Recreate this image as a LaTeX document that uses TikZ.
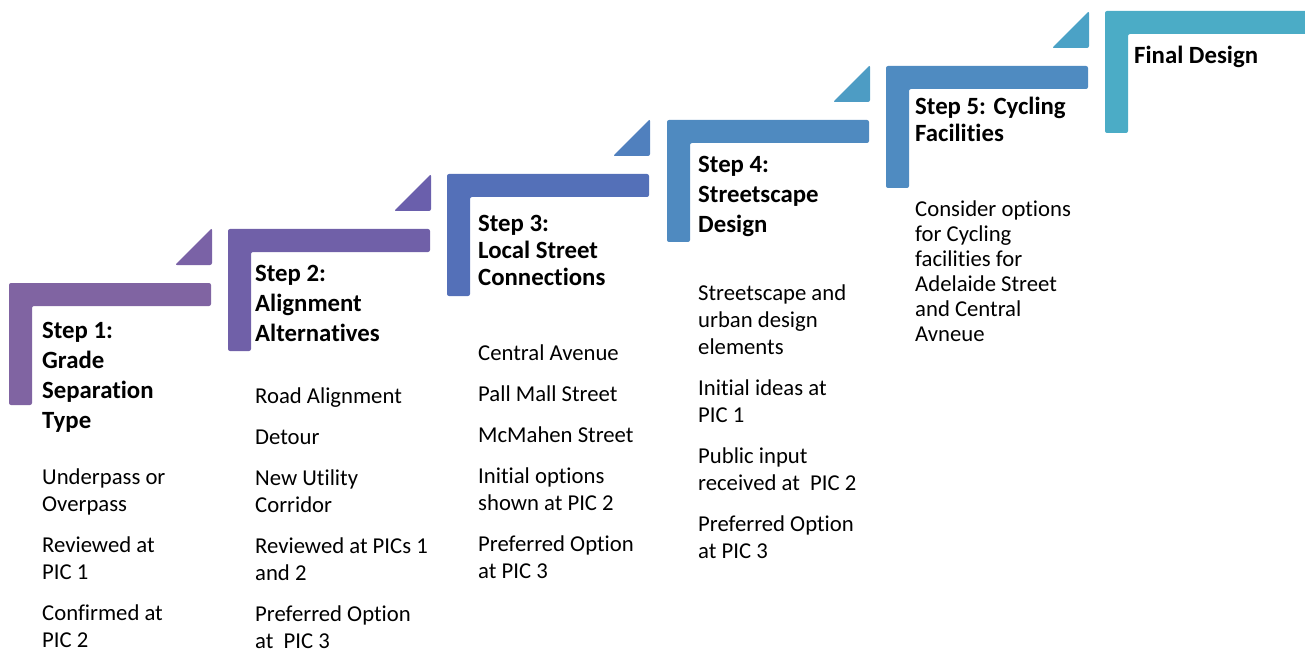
\documentclass[tikz,border=0pt]{standalone}
\usepackage{fontspec}
\setmainfont{Carlito}[Ligatures=NoCommon]
\usepackage{tikz}
\usetikzlibrary{positioning}
\usepackage{xcolor}

\definecolor{barone}{HTML}{8064A2}
\definecolor{trione}{HTML}{7A62A6}
\definecolor{bartwo}{HTML}{7060A8}
\definecolor{tritwo}{HTML}{6A5FAC}
\definecolor{barthree}{HTML}{5470B8}
\definecolor{trithree}{HTML}{5080BE}
\definecolor{barfour}{HTML}{4F8AC0}
\definecolor{trifour}{HTML}{4D9CC4}
\definecolor{barfive}{HTML}{4F8BC1}
\definecolor{trifive}{HTML}{4BA2C6}
\definecolor{barsix}{HTML}{4BACC6}

\begin{document}
\begin{tikzpicture}[x=1pt,y=-1pt,
      stair/.style={rounded corners=2pt},
      head/.style={anchor=base west,align=left,inner sep=0pt,
                   font=\fontsize{24.8}{30}\selectfont\bfseries},
      body/.style={anchor=base west,align=left,inner sep=0pt,
                   font=\fontsize{22.7}{27}\selectfont}]
    \useasboundingbox (0,0) rectangle (1305,652);

    % steps
    \fill[stair,barone] (9,283) -- ++(202,0) -- ++(0,23) -- ++(-179,0) -- ++(0,99) -- ++(-23,0) -- cycle;
    \fill[stair,trione] (175,265) -- ++(37,0) -- ++(0,-37) -- cycle;
    \fill[stair,bartwo] (228,229) -- ++(202,0) -- ++(0,23) -- ++(-179,0) -- ++(0,99) -- ++(-23,0) -- cycle;
    \fill[stair,tritwo] (394,211) -- ++(37,0) -- ++(0,-37) -- cycle;
    \fill[stair,barthree] (447,174) -- ++(202,0) -- ++(0,23) -- ++(-179,0) -- ++(0,99) -- ++(-23,0) -- cycle;
    \fill[stair,trithree] (613,156) -- ++(37,0) -- ++(0,-37) -- cycle;
    \fill[stair,barfour] (667,120) -- ++(202,0) -- ++(0,23) -- ++(-179,0) -- ++(0,99) -- ++(-23,0) -- cycle;
    \fill[stair,trifour] (833,102) -- ++(37,0) -- ++(0,-37) -- cycle;
    \fill[stair,barfive] (886,66) -- ++(202,0) -- ++(0,23) -- ++(-179,0) -- ++(0,99) -- ++(-23,0) -- cycle;
    \fill[stair,trifive] (1052,48) -- ++(37,0) -- ++(0,-37) -- cycle;
    \fill[stair,barsix] (1105,11) -- ++(210,0) -- ++(0,23) -- ++(-187,0) -- ++(0,99) -- ++(-23,0) -- cycle;

    % headings (placed at the baseline of their last line)
    \node[head] (gradehead) at (42,428) {Step 1:\\Grade\\Separation\\Type};
    \node[head] (alignhead) at (255,341) {Step 2:\\Alignment\\Alternatives};
    \node[head,font=\fontsize{24.8}{27}\selectfont\bfseries] (streethead) at (478,285)
      {Step 3:\\Local Street\\Connections};
    \node[head] (scapehead) at (698,233) {Step 4:\\Streetscape\\Design};
    \node[head,font=\fontsize{24.8}{27}\selectfont\bfseries] (cyclehead) at (915,142)
      {Step 5: Cycling\\Facilities};
    \node[head] (finalhead) at (1134,64) {Final Design};

    % descriptions
    \node[body] (gradebody) at (42,647)
      {Underpass or\\Overpass\\[14pt]Reviewed at\\PIC 1\\[14pt]Confirmed at\\PIC 2};
    \node[body] (alignbody) at (255,648)
      {Road Alignment\\[14pt]Detour\\[14pt]New Utility\\Corridor\\[14pt]Reviewed at PICs 1\\and 2\\[14pt]Preferred Option\\at~ PIC 3};
    \node[body] (streetbody) at (478,578)
      {Central Avenue\\[14pt]Pall Mall Street\\[14pt]McMahen Street\\[14pt]Initial options\\shown at PIC 2\\[14pt]Preferred Option\\at PIC 3};
    \node[body] (scapebody) at (698,558)
      {Streetscape and\\urban design\\elements\\[14pt]Initial ideas at\\PIC 1\\[14pt]Public input\\received at~ PIC 2\\[14pt]Preferred Option\\at PIC 3};
    \node[body,font=\fontsize{22.7}{25}\selectfont] (cyclebody) at (915,341)
      {Consider options\\for Cycling\\facilities for\\Adelaide Street\\and Central\\Avneue};
  \end{tikzpicture}
\end{document}
